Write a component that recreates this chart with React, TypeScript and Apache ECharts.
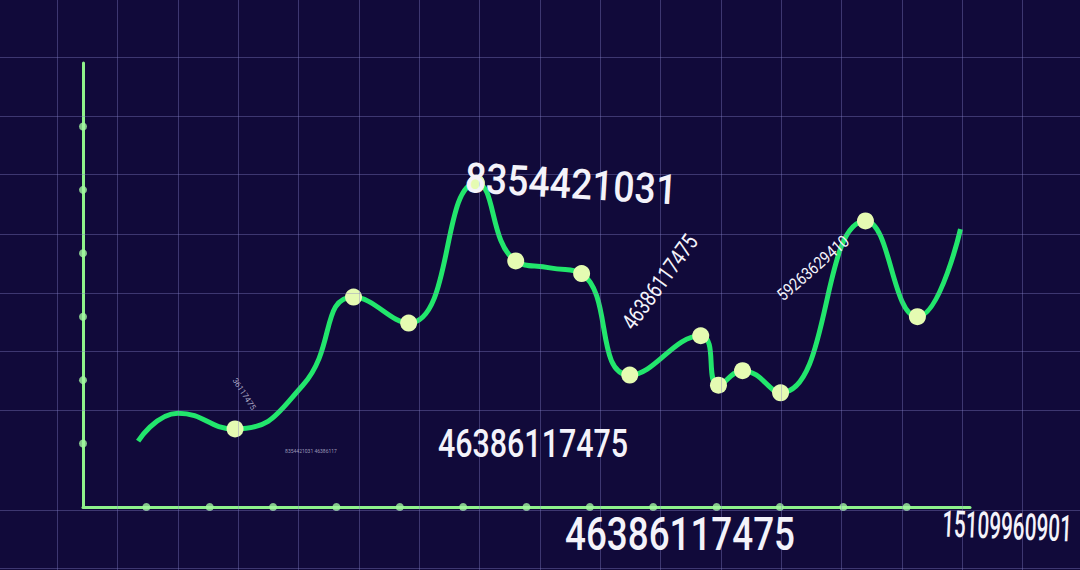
import React, { useEffect, useRef } from "react";
import * as echarts from "echarts";

// ---- data ----
const curveX = [0.87, 1.5, 2.4, 3.47, 4.27, 5.14, 6.21, 6.83, 7.37, 7.87, 8.63, 9.75, 10.03, 10.41, 11.01, 12.35, 13.17, 13.85];
const curveY = [1.04, 1.48, 1.23, 1.92, 3.31, 2.9, 5.11, 3.88, 3.77, 3.68, 2.08, 2.7, 1.92, 2.15, 1.8, 4.51, 3.0, 4.38];
const curveMarked = [false, false, true, false, true, true, true, true, false, true, true, true, true, true, true, true, true, false];
const xTickDots = [1, 2, 3, 4, 5, 6, 7, 8, 9, 10, 11, 12, 13];
const yTickDots = [1, 2, 3, 4, 5, 6];
const bgColumns = [57, 117, 178, 238, 298, 359, 419, 479, 540, 600, 660, 721, 781, 841, 902, 962, 1022];
const bgRows = [57, 116, 174, 234, 293, 351, 410, 510, 568];
const numberLabels = ["8354421031", "46386117475", "59263629410", "46386117475", "46386117475", "15109960901", "36117475", "8354421031 46386117"];

export default function App() {
  const ref = useRef<HTMLDivElement>(null);
  useEffect(() => {
    document.body.style.margin = "0";
    const chart = echarts.init(ref.current!, null, { renderer: "svg" });
    const font = "Roboto, 'DejaVu Sans', sans-serif";
    const txt = (i: number, x: number, y: number, size: number, sx: number, rot: number, weight = 500, fill = "#f4f3fa", opacity = 1) => ({
      type: "text",
      x,
      y,
      rotation: rot,
      scaleX: sx,
      z: 100,
      style: {
        text: numberLabels[i],
        fill,
        opacity,
        font: `${weight} ${size}px ${font}`,
        textAlign: "center",
        textVerticalAlign: "middle",
      },
    });
    const option: any = {
      animation: false,
      backgroundColor: "#110a3a",
      grid: [
        { left: 83, right: 110, top: 63, bottom: 63 },
        { left: 0, right: 0, top: 0, bottom: 0 },
      ],
      xAxis: [
        {
          gridIndex: 0,
          type: "value",
          min: 0,
          max: 14,
          interval: 1,
          axisLine: { show: true, lineStyle: { color: "#8ef28b", width: 3 } },
          axisTick: { show: false },
          axisLabel: { show: false },
          splitLine: { show: false },
        },
        { gridIndex: 1, type: "value", min: 0, max: 1080, show: false },
      ],
      yAxis: [
        {
          gridIndex: 0,
          type: "value",
          min: 0,
          max: 7,
          interval: 1,
          axisLine: { show: true, lineStyle: { color: "#8ef28b", width: 3 } },
          axisTick: { show: false },
          axisLabel: { show: false },
          splitLine: { show: false },
        },
        { gridIndex: 1, type: "value", min: 0, max: 570, inverse: true, show: false },
      ],
      series: [
        {
          type: "line",
          xAxisIndex: 1,
          yAxisIndex: 1,
          data: [[0, 0]],
          symbol: "none",
          lineStyle: { opacity: 0 },
          silent: true,
          z: 0,
          markLine: {
            silent: true,
            symbol: ["none", "none"],
            label: { show: false },
            lineStyle: { color: "rgba(135,130,200,0.38)", width: 1, type: "solid" },
            data: [...bgColumns.map((v) => ({ xAxis: v })), ...bgRows.map((v) => ({ yAxis: v }))],
          },
        },
        {
          type: "scatter",
          data: [...xTickDots.map((k) => [k, 0]), ...yTickDots.map((k) => [0, k])],
          symbolSize: 8,
          itemStyle: { color: "#a3f6a0" },
          z: 3,
          silent: true,
        },
        {
          type: "line",
          smooth: 0.5,
          data: curveX.map((x, i) => ({ value: [x, curveY[i]], symbol: curveMarked[i] ? "circle" : "none" })),
          symbolSize: 17,
          showSymbol: true,
          itemStyle: { color: "#e5fbb2" },
          lineStyle: { color: "#22e66c", width: 5 },
          z: 4,
          silent: true,
        },
      ],
      graphic: [
        txt(0, 571, 184, 42, 0.89, -0.06, 500),
        txt(1, 660, 282, 23, 0.78, 0.94, 400),
        txt(2, 813, 268, 17, 0.85, 0.72, 400),
        txt(3, 533, 444, 38, 0.8, 0, 500),
        txt(4, 680, 534, 46, 0.8, 0, 500),
        txt(5, 1007, 526, 37, 0.56, -0.04, 500),
        txt(6, 244, 394, 8, 1, -1.0, 400, "#d8d6e8", 0.75),
        txt(7, 311, 451, 5, 1, 0, 400, "#d8d6e8", 0.7),
      ],
    };
    chart.setOption(option);
    return () => chart.dispose();
  }, []);
  return <div ref={ref} style={{ position: "fixed", left: 0, top: 0, width: 1080, height: 570 }} />;
}
